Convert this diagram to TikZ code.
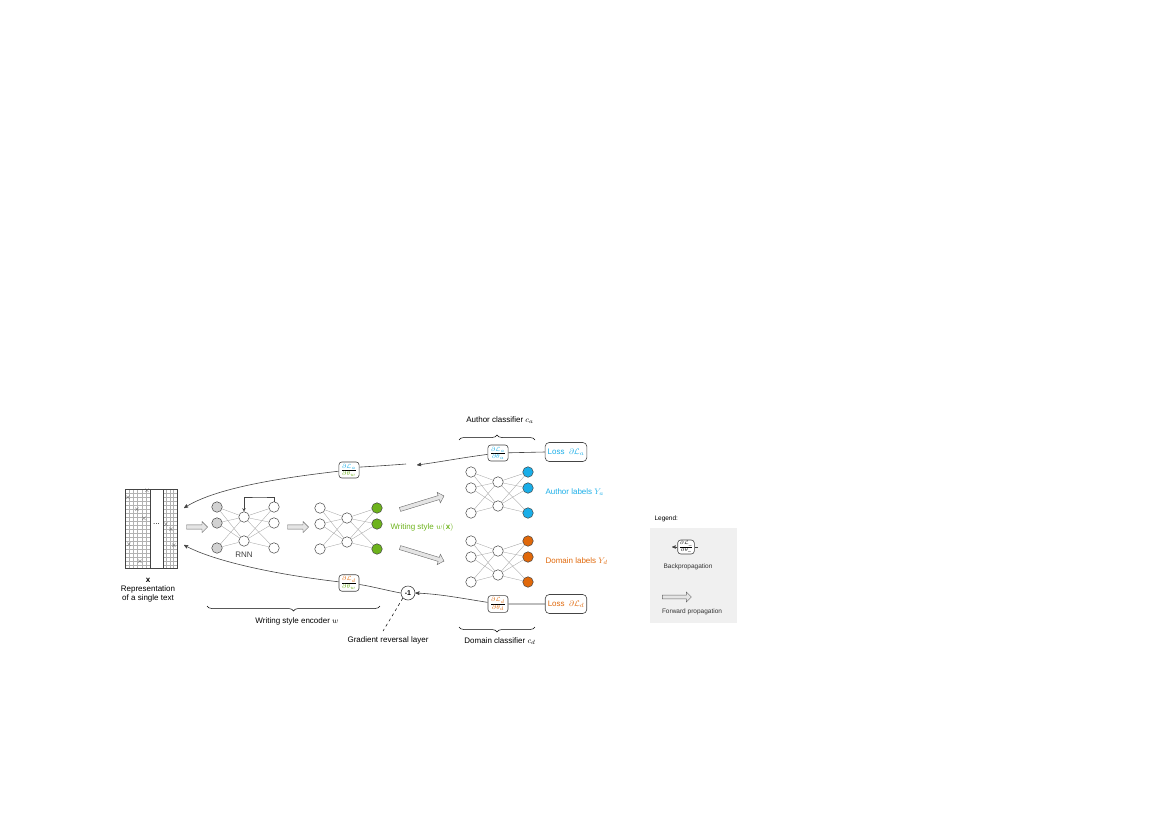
\documentclass[tikz,border=0pt]{standalone}
\usepackage{fontspec}
\setmainfont{Liberation Sans}
\usepackage{amsmath}
\usetikzlibrary{arrows}
\usetikzlibrary{calc}
\usetikzlibrary{fit}
\usetikzlibrary{positioning}
\usetikzlibrary{shapes.arrows}
\usetikzlibrary{decorations.pathreplacing}
\usetikzlibrary{backgrounds}

\definecolor{cblue}{HTML}{1AAEE8}
\definecolor{cgreen}{HTML}{6DB31C}
\definecolor{corange}{HTML}{E0680A}
\definecolor{cline}{HTML}{444444}

\tikzset{
  neuron/.style={circle,draw=cline,line width=0.5pt,inner sep=0pt,minimum size=10.5pt,fill=white},
  syn/.style={draw=gray!70,line width=0.35pt},
  fwd/.style={single arrow,draw=gray!80!black,fill=gray!20,line width=0.4pt,minimum height=21pt,
    minimum width=11pt,single arrow head extend=2pt,inner sep=1pt},
  gradbox/.style={draw=cline,rounded corners=3pt,fill=white,inner sep=2pt,line width=0.6pt,
    font=\fontsize{9}{10}\selectfont},
  lossbox/.style={draw=cline,rounded corners=4pt,fill=white,inner sep=2.5pt,minimum height=19pt,line width=0.6pt},
  lbl/.style={font=\fontsize{8}{9}\selectfont},
  back/.style={draw=cline,line width=0.6pt,-stealth'},
  brace/.style={decorate,decoration={brace,amplitude=5pt},draw=black,line width=0.5pt}
}

% small three layer network: prefix, x, y, colour of input and output layer
\newcommand\mlp[5]{%
  \node[neuron,fill=#4] (#1l1) at (#2,#3) {};
  \node[neuron,fill=#4] (#1l2) at (#2,#3+16) {};
  \node[neuron,fill=#4] (#1l3) at (#2,#3+41) {};
  \node[neuron] (#1m1) at (#2+27,#3+10) {};
  \node[neuron] (#1m2) at (#2+27,#3+34) {};
  \node[neuron,fill=#5] (#1r1) at (#2+57,#3) {};
  \node[neuron,fill=#5] (#1r2) at (#2+57,#3+16) {};
  \node[neuron,fill=#5] (#1r3) at (#2+57,#3+41) {};
  \begin{scope}[on background layer]
  \foreach \i in {1,2,3} \foreach \j in {1,2} {
    \path[syn] (#1l\i) -- (#1m\j);
    \path[syn] (#1m\j) -- (#1r\i);
  }
  \end{scope}
}

\begin{document}
\begin{tikzpicture}[x=1pt,y=-1pt]
  \useasboundingbox (0,0) rectangle (1170,827);

  % input text matrix
  \foreach \gy in {493,497,...,565} \draw[gray!60,line width=0.3pt] (125,\gy) -- (150,\gy) (163,\gy) -- (177,\gy);
  \foreach \gx in {129.2,133.3,137.5,141.7,145.8} \draw[gray!60,line width=0.3pt] (\gx,489) -- (\gx,568);
  \foreach \gx in {166.5,170,173.5} \draw[gray!60,line width=0.3pt] (\gx,489) -- (\gx,568);
  \draw[cline,line width=0.7pt] (125,489) rectangle (177,568);
  \draw[cline,line width=0.5pt] (150,489) -- (150,568) (163,489) -- (163,568);
  \node[lbl,inner sep=0pt] (dots) at (156.5,524) {...};
  \foreach \cx/\cy in {128/498,147/491,137/510,144/519,129/545,140/562,166/525,171/530,174/546}
    \node[gray!60!black,inner sep=0pt,font=\fontsize{7}{7}\selectfont] at (\cx,\cy) {$\times$};
  \node[lbl,inner sep=0pt] (xlab) at (148,580) {$\mathbf{x}$};
  \node[lbl,align=center,inner sep=0pt,below=3pt of xlab] (replab) {Representation\\of a single text};

  % encoder
  \node[fwd] (f1) at (196,527) {};
  \mlp{rnn}{217}{507}{gray!35}{white}
  \draw[cline,line width=0.5pt,-stealth] (rnnr1.north) |- (260,497) -| (rnnm1.north);
  \node[lbl,gray!50!black,below=2pt of rnnm2] (rnnlab) {RNN};
  \node[fwd] (f2) at (297,527) {};
  \mlp{enc}{320}{508}{white}{cgreen}
  \node[lbl,text=cgreen,anchor=west] (style) at (387,527) {Writing style $w(\mathbf{x})$};

  \node[fwd,minimum height=46pt,rotate=17] (f3) at (421,503) {};
  \node[fwd,minimum height=46pt,rotate=-17] (f4) at (421,554) {};

  % classifiers
  \mlp{aut}{471}{472}{white}{cblue}
  \node[lbl,text=cblue,anchor=west] (ylab_a) at (542,492) {Author labels $Y_a$};
  \mlp{dom}{471}{541}{white}{corange}
  \node[lbl,text=corange,anchor=west] (ylab_d) at (542,561) {Domain labels $Y_d$};

  % gradients
  \node[lossbox,lbl,text=cblue] (loss_a) at (566,452) {Loss\; $\partial\mathcal{L}_a$};
  \node[gradbox] (grad_a) at (498,453) {$\frac{\color{cblue}\partial\mathcal{L}_a}{\color{cblue}\partial\theta_a}$};
  \node[lossbox,lbl,text=corange] (loss_d) at (566,604) {Loss\; $\partial\mathcal{L}_d$};
  \node[gradbox] (grad_d) at (498,604) {$\frac{\color{corange}\partial\mathcal{L}_d}{\color{corange}\partial\theta_d}$};
  \node[gradbox] (grad_wa) at (349,470) {$\frac{\color{cblue}\partial\mathcal{L}_a}{\color{cgreen}\partial\theta_w}$};
  \node[gradbox] (grad_wd) at (349,583) {$\frac{\color{corange}\partial\mathcal{L}_d}{\color{cgreen}\partial\theta_w}$};
  \node[circle,draw=cline,line width=0.6pt,inner sep=0pt,minimum size=14pt,font=\fontsize{7}{7}\selectfont\bfseries] (rev) at (408,593) {-1};
  \coordinate (a_end) at (417,465);
  \coordinate (a_start) at (406,464);
  \coordinate (in_top) at (184,508);
  \coordinate (in_bot) at (184,545);

  \begin{scope}[on background layer]
  \draw[back] (loss_a.west) -- (grad_a) .. controls (460,458) and (440,462) .. (a_end);
  \draw[back] (a_start) .. controls (380,466) and (360,467) .. (grad_wa) .. controls (280,478) and (215,488) .. (in_top);
  \draw[back] (loss_d.west) -- (grad_d) .. controls (460,598) and (440,594) .. (rev.east);
  \draw[back] (rev.west) .. controls (385,590) and (370,586) .. (grad_wd) .. controls (280,575) and (215,562) .. (in_bot);
  \end{scope}
  \coordinate (grl_end) at (383,631);
  \draw[dashed,line width=0.5pt] (rev.south west) -- (grl_end);
  \node[lbl,anchor=north] (grl) at (388,633) {Gradient reversal layer};

  % braces
  \draw[brace] (380,606) -- (207,606);
  \node[lbl] (enclab) at (297,621) {Writing style encoder $w$};
  \draw[brace] (459,440) -- (535,440);
  \node[lbl] (autlab) at (500,420) {Author classifier $c_a$};
  \draw[brace] (535,627) -- (459,627);
  \node[lbl] (domlab) at (500,641) {Domain classifier $c_d$};

  % legend
  \node[lbl,anchor=west,font=\fontsize{6.5}{7}\selectfont] (legend) at (651,519) {Legend:};
  \fill[gray!12] (650,528) rectangle (737,623);
  \node[gradbox,font=\fontsize{6}{6}\selectfont,inner sep=1pt] (lgrad) at (686,547) {$\frac{\partial\mathcal{L}_{\_}}{\partial\theta_{\_}}$};
  \coordinate (lback) at (672,547);
  \draw[cline,line width=0.5pt,-stealth'] (lgrad.west) -- (lback);
  \draw[cline,line width=0.5pt] (lgrad.east) -- ++(3,0);
  \node[lbl,gray!40!black,font=\fontsize{6.5}{7}\selectfont] (lbacklab) at (688,567) {Backpropagation};
  \node[fwd,minimum height=29pt,minimum width=10pt] (lfwd) at (676,597) {};
  \node[lbl,gray!40!black,font=\fontsize{6.5}{7}\selectfont] (lfwdlab) at (692,612) {Forward propagation};
\end{tikzpicture}
\end{document}
